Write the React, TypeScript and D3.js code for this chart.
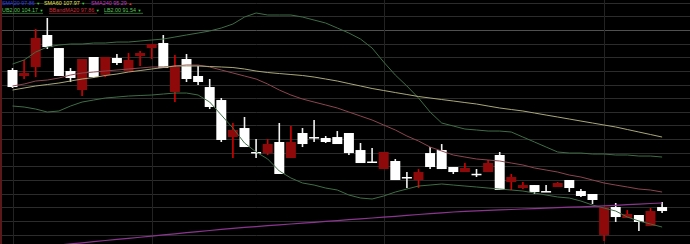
import React, { useEffect } from "react";
import * as d3 from "d3";

const W = 690;
const H = 244;

// OHLC (price units)
const opens = [120.16,119.06,120.71,126.57,124.18,119.97,116.49,122.54,119.24,122.36,119.97,122.72,124.18,125.10,116.13,122.17,119.06,117.04,114.66,107.88,109.53,105.14,104.95,106.97,104.04,108.62,107.88,107.70,107.88,108.62,105.50,103.40,102.02,103.49,100.56,100.01,104.95,105.50,102.39,101.47,101.15,101.47,104.59,99.64,98.54,99.09,97.99,98.73,100.01,97.99,97.45,89.94,95.06,93.05,93.60,91.58,95.06];
const highs = [120.52,121.99,127.66,129.68,124.18,120.52,122.17,122.54,122.54,123.09,123.27,123.64,124.92,126.57,122.90,123.09,120.89,118.51,115.03,110.45,111.55,107.52,107.52,110.45,109.90,109.53,111.00,108.07,108.98,108.62,106.79,105.87,105.14,103.86,101.47,102.02,106.05,106.60,102.39,103.12,102.02,103.67,105.14,101.11,99.64,99.09,99.09,99.64,100.01,98.36,97.45,95.06,95.80,94.51,93.60,94.88,95.98];
const lows = [116.86,118.51,118.87,124.00,119.06,117.96,115.39,118.69,118.87,121.07,119.97,120.89,122.17,120.52,114.29,117.96,117.41,113.01,106.97,104.04,106.05,104.04,104.59,101.11,104.04,106.05,106.97,106.79,106.60,104.59,103.12,103.12,102.02,100.01,98.54,98.54,102.02,102.02,101.11,101.47,100.56,101.47,98.18,98.18,98.36,97.45,97.81,98.73,97.81,96.90,95.61,88.84,92.32,93.05,90.66,91.58,93.96];
const closes = [117.04,119.61,126.02,124.37,119.06,118.69,122.17,118.87,122.54,121.44,121.99,123.27,124.92,120.52,120.71,118.51,117.96,113.38,107.34,109.17,106.05,104.95,106.60,101.11,106.97,106.60,107.79,106.97,106.60,104.95,103.12,103.31,105.14,100.01,100.48,101.47,102.39,102.02,101.47,102.21,101.11,103.12,98.18,100.56,99.09,97.81,97.95,99.46,98.54,97.08,96.35,95.06,93.23,93.78,92.32,94.33,94.33];

// Indicator series
const upperBand = [121.25,121.99,123.45,124.37,124.73,124.92,124.92,125.10,125.10,125.28,125.28,125.47,125.65,125.83,126.20,126.57,126.93,127.30,127.85,128.58,129.86,130.60,130.23,130.23,130.23,129.86,129.31,128.76,127.85,126.93,125.83,124.18,121.62,119.24,117.23,115.03,112.46,110.45,109.90,109.35,109.17,108.98,108.98,108.80,107.88,106.97,106.05,105.14,104.95,104.95,104.77,104.77,104.59,104.59,104.40,104.40,104.22];
const lowerBand = [113.56,113.38,113.01,112.46,112.65,113.56,114.29,114.66,115.03,115.21,115.39,115.49,115.58,115.76,115.94,115.94,115.58,114.29,111.91,109.53,106.79,105.14,103.86,101.66,100.38,99.46,99.09,98.54,98.18,97.26,96.71,96.53,97.08,97.81,98.36,98.91,99.09,99.28,99.09,98.91,98.73,98.54,98.36,98.18,97.99,97.63,97.26,96.90,96.71,96.16,95.43,94.88,94.33,93.23,92.50,91.95,91.40];
const bbMid = [117.23,117.59,118.14,118.32,118.69,119.24,119.61,119.79,119.97,120.16,120.34,120.52,120.71,120.71,120.89,121.07,121.07,120.71,120.16,119.61,119.06,118.51,117.59,116.49,115.58,114.84,114.29,113.75,113.20,112.46,111.73,111.00,110.08,109.17,108.07,107.15,106.05,105.32,104.59,104.22,103.86,103.67,103.49,103.12,102.76,102.21,101.84,101.47,100.92,100.56,100.01,99.46,99.09,98.73,98.36,98.18,97.81];
const sma60 = [116.49,116.86,117.23,117.50,117.77,118.14,118.51,118.78,119.15,119.42,119.79,120.06,120.34,120.61,120.89,120.89,120.89,120.80,120.71,120.61,120.34,119.97,119.70,119.51,119.33,119.15,118.87,118.51,118.14,117.68,117.23,116.77,116.40,116.03,115.67,115.30,115.03,114.75,114.48,114.20,113.93,113.56,113.20,112.92,112.65,112.28,111.91,111.55,111.18,110.81,110.45,110.08,109.72,109.26,108.80,108.34,107.88];
const sma240 = [87.28,87.48,87.70,87.90,88.10,88.31,88.51,88.73,88.93,89.13,89.33,89.53,89.75,89.95,90.16,90.36,90.56,90.76,90.96,91.16,91.33,91.47,91.64,91.79,91.95,92.12,92.26,92.43,92.57,92.74,92.90,93.05,93.21,93.36,93.53,93.69,93.84,94.00,94.15,94.28,94.37,94.44,94.53,94.61,94.70,94.77,94.86,94.94,95.03,95.10,95.19,95.27,95.38,95.49,95.60,95.71,95.80];

// Period boundaries (candle indices where a new month starts)
const periodStarts = [0, 12, 32, 51];

// Price grid step and highlighted level
const gridStep = 2.5;
const highlightLevel = 127.5;

const legendRow1 = [
  { label: "SMA20 97.86", color: "#2a3cf0", arrow: "▼", arrowColor: "#3cd23c" },
  { label: "SMA60 107.97", color: "#e6e650", arrow: "▼", arrowColor: "#3cd23c" },
  { label: "SMA240 95.29", color: "#c837c8", arrow: "▲", arrowColor: "#e03030" },
];
const legendRow2 = [
  { label: "UB2.00 104.17", color: "#5fc35f", arrow: "▼", arrowColor: "#3cd23c" },
  { label: "BBandMA20 97.86", color: "#c8323c", arrow: "▼", arrowColor: "#3cd23c" },
  { label: "LB2.00 91.54", color: "#5fc35f", arrow: "▼", arrowColor: "#3cd23c" },
];

export default function App() {
  useEffect(() => {
    document.body.style.margin = "0";
    document.body.style.background = "#000";
  }, []);

  const n = closes.length;
  const x = d3.scaleLinear().domain([0, n - 1]).range([12.5, 662.1]);
  const y = d3.scaleLinear().domain([88.29, 132.98]).range([H, 0]);
  const step = x(1) - x(0);
  const bodyW = step * 0.86;

  const gridLevels = d3.range(90, 133, gridStep);

  const line = (vals: number[]) =>
    d3
      .line<number>()
      .x((_, i) => x(i))
      .y((v) => y(v))(vals) || "";

  const legendXs1 = [2, 44, 91];
  const legendXs2 = [2, 49, 104];
  const legendW2 = [36, 43, 34];

  return (
    <svg
      width={W}
      height={H}
      style={{ display: "block", position: "absolute", left: 0, top: 0, background: "#000" }}
      fontFamily="'Liberation Sans', Arial, sans-serif"
    >
      <defs>
        <clipPath id="plot">
          <rect x={0} y={0} width={W} height={H} />
        </clipPath>
      </defs>
      <rect x={0} y={0} width={W} height={H} fill="#000" />
      {gridLevels.map((g) => (
        <line
          key={g}
          x1={0}
          x2={W}
          y1={Math.round(y(g)) + 0.5}
          y2={Math.round(y(g)) + 0.5}
          stroke={Math.abs(g - highlightLevel) < 0.01 ? "#505050" : "#2c2c2c"}
          strokeWidth={1}
        />
      ))}
      {periodStarts.map((p) => (
        <line
          key={p}
          x1={Math.round(x(p)) + 0.5}
          x2={Math.round(x(p)) + 0.5}
          y1={0}
          y2={H}
          stroke="#232323"
          strokeWidth={1}
        />
      ))}
      <line x1={1} x2={1} y1={0} y2={H} stroke="#5a1818" strokeWidth={2} />

      <g clipPath="url(#plot)">
        {closes.map((c, i) => {
          const o = opens[i];
          const up = c > o;
          const top = y(Math.max(o, c));
          const bot = y(Math.min(o, c));
          const h = Math.max(1.5, bot - top);
          const cx = x(i);
          return (
            <g key={i}>
              <line
                x1={cx}
                x2={cx}
                y1={y(highs[i])}
                y2={y(lows[i])}
                stroke={up ? "#d40000" : "#f2f2f2"}
                strokeWidth={1.6}
              />
              <rect
                x={cx - bodyW / 2}
                y={top}
                width={bodyW}
                height={h}
                fill={up ? "#8e0a0a" : "#ffffff"}
              />
            </g>
          );
        })}

        <path d={line(upperBand)} fill="none" stroke="#3f6e45" strokeWidth={1} />
        <path d={line(lowerBand)} fill="none" stroke="#3f6e45" strokeWidth={1} />
        <path d={line(bbMid)} fill="none" stroke="#8c4650" strokeWidth={1} />
        <path d={line(sma60)} fill="none" stroke="#a9a87a" strokeWidth={1} />
        <path d={line(sma240)} fill="none" stroke="#8c3590" strokeWidth={1.2} />
      </g>

      <g fontSize={5.4}>
        {legendRow1.map((l, i) => (
          <text key={l.label} x={legendXs1[i]} y={5.3} fill={l.color}>
            {l.label}
            <tspan fill={l.arrowColor} dx={1.5} fontSize={4}>{l.arrow}</tspan>
          </text>
        ))}
        {legendRow2.map((l, i) => (
          <g key={l.label}>
            <text x={legendXs2[i]} y={11.9} fill={l.color}>
              {l.label}
              <tspan fill={l.arrowColor} dx={1.5} fontSize={4}>{l.arrow}</tspan>
            </text>
            <line
              x1={legendXs2[i]}
              x2={legendXs2[i] + legendW2[i] + 5}
              y1={13.3}
              y2={13.3}
              stroke={l.color}
              strokeOpacity={0.7}
              strokeWidth={0.8}
            />
          </g>
        ))}
      </g>
    </svg>
  );
}
